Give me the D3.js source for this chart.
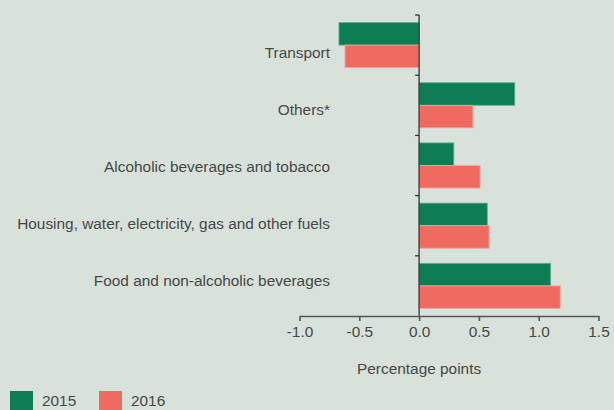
<!DOCTYPE html>
<html>
<head>
<meta charset="utf-8">
<script src="https://cdn.jsdelivr.net/npm/d3@7"></script>
<style>
  body { margin: 0; background: #d8e2da; }
  svg { display: block; font-family: "Liberation Sans", Arial, sans-serif; }
</style>
</head>
<body>
<div id="chart"></div>
<script>
var categories = ["Transport", "Others*", "Alcoholic beverages and tobacco",
  "Housing, water, electricity, gas and other fuels", "Food and non-alcoholic beverages"];
var years = ["2015", "2016"];
var values2015 = [-0.67, 0.80, 0.29, 0.57, 1.10];
var values2016 = [-0.62, 0.45, 0.51, 0.585, 1.18];
var xTicks = [-1.0, -0.5, 0.0, 0.5, 1.0, 1.5];
var colors = ["#0e7d55", "#ef6b62"];
var strokes = ["#5faf8a", "#f6a9a2"];

var width = 614, height = 410;
var fontSize = 15.4;

var svg = d3.select("#chart").append("svg")
  .attr("width", width)
  .attr("height", height);

svg.append("rect").attr("width", width).attr("height", height).attr("fill", "#d8e2da");

var x = d3.scaleLinear().domain([-1, 1.5]).range([299.5, 598.5]);

var y = d3.scaleBand()
  .domain(categories)
  .range([15, 316])
  .paddingInner(0.25)
  .paddingOuter(0.125);

var yInner = d3.scaleBand().domain(years).range([0, y.bandwidth()]);

// labels sit a bit tighter than the bands in the original
var yLabel = d3.scalePoint().domain(categories).range([52, 280]);

var rows = categories.map(function(c, i) {
  return { name: c, vals: [values2015[i], values2016[i]] };
});

var group = svg.selectAll(".cat")
  .data(rows)
  .enter().append("g")
    .attr("class", "cat")
    .attr("transform", function(d) { return "translate(0," + y(d.name) + ")"; });

group.selectAll("rect")
  .data(function(d) { return d.vals.map(function(v, j) { return { v: v, year: years[j], j: j }; }); })
  .enter().append("rect")
    .attr("x", function(d) { return x(Math.min(0, d.v)); })
    .attr("y", function(d) { return yInner(d.year); })
    .attr("width", function(d) { return Math.abs(x(d.v) - x(0)); })
    .attr("height", yInner.bandwidth())
    .attr("fill", function(d) { return colors[d.j]; })
    .attr("stroke", function(d) { return strokes[d.j]; })
    .attr("stroke-width", 0.8);

// category labels
svg.selectAll(".lbl")
  .data(categories)
  .enter().append("text")
    .attr("class", "lbl")
    .attr("x", 330)
    .attr("y", function(d) { return yLabel(d); })
    .attr("dy", "0.36em")
    .attr("text-anchor", "end")
    .attr("font-size", fontSize)
    .attr("fill", "#474747")
    .text(function(d) { return d; });

// y axis line with band boundary ticks
var yAxis = svg.append("g").attr("transform", "translate(" + x(0) + ",0)");
yAxis.append("line")
  .attr("y1", 15).attr("y2", 316)
  .attr("stroke", "#333").attr("stroke-width", 1.3);
yAxis.selectAll(".ytick")
  .data(categories)
  .enter().append("line")
    .attr("x1", -4).attr("x2", 0)
    .attr("y1", function(d) { return y(d) - y.step() * y.paddingInner() / 2; })
    .attr("y2", function(d) { return y(d) - y.step() * y.paddingInner() / 2; })
    .attr("stroke", "#333").attr("stroke-width", 1.3);

// x axis (plain hyphen for negatives, like the original)
var xAxis = svg.append("g")
  .attr("transform", "translate(0,316)")
  .call(d3.axisBottom(x).tickValues(xTicks)
    .tickFormat(function(d) { return d.toFixed(1); })
    .tickSizeInner(5).tickSizeOuter(0).tickPadding(5));
xAxis.select(".domain").attr("stroke", "#555").attr("stroke-width", 1.6);
xAxis.selectAll(".tick line").attr("stroke", "#555").attr("stroke-width", 1.6);
xAxis.selectAll("text").attr("font-size", fontSize).attr("fill", "#474747").attr("font-family", "Liberation Sans, Arial, sans-serif");

svg.append("text")
  .attr("x", x(0))
  .attr("y", 374)
  .attr("text-anchor", "middle")
  .attr("font-size", fontSize)
  .attr("fill", "#474747")
  .text("Percentage points");

// legend
var legend = svg.selectAll(".leg")
  .data(years)
  .enter().append("g")
    .attr("class", "leg")
    .attr("transform", function(d, i) { return "translate(" + (10 + i * 89) + ",391)"; });
legend.append("rect")
  .attr("width", 23).attr("height", 23)
  .attr("fill", function(d, i) { return colors[i]; });
legend.append("text")
  .attr("x", 32).attr("y", 15)
  .attr("font-size", fontSize)
  .attr("fill", "#474747")
  .text(function(d) { return d; });
</script>
</body>
</html>
